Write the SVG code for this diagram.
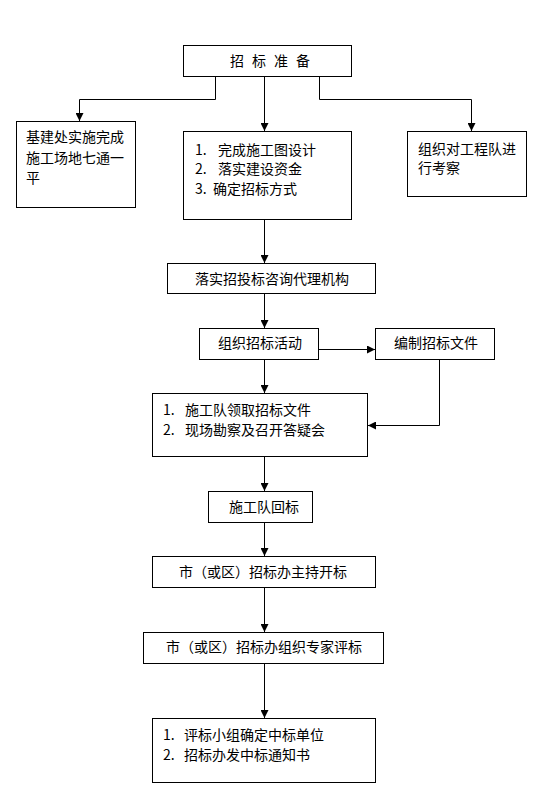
<svg xmlns="http://www.w3.org/2000/svg" width="542" height="797" viewBox="0 0 542 797">
<style>
.box{fill:#fff;stroke:#000;stroke-width:1}
.t{font-family:"Noto Sans CJK SC","Noto Sans",sans-serif;font-size:14px;fill:#000}
.c{fill:none;stroke:#000;stroke-width:1}
</style>
<defs>
<marker id="ah" markerUnits="userSpaceOnUse" markerWidth="8" markerHeight="8" refX="8" refY="4" orient="auto">
<path d="M0,0 L8,4 L0,8 z" fill="#000"/>
</marker>
</defs>
<rect width="542" height="797" fill="#fff"/>
<g id="connectors">
<path class="c" marker-end="url(#ah)" d="M215.5,77 V99.5 H79.5 V121"/>
<path class="c" marker-end="url(#ah)" d="M264.5,77 V131"/>
<path class="c" marker-end="url(#ah)" d="M319.5,77 V99.5 H471.5 V131"/>
<path class="c" marker-end="url(#ah)" d="M264.5,220 V263"/>
<path class="c" marker-end="url(#ah)" d="M264.5,294 V328"/>
<path class="c" marker-end="url(#ah)" d="M319,349.5 H375"/>
<path class="c" marker-end="url(#ah)" d="M264.5,360 V393"/>
<path class="c" marker-end="url(#ah)" d="M439.5,360 V425.5 H368"/>
<path class="c" marker-end="url(#ah)" d="M264.5,457 V491"/>
<path class="c" marker-end="url(#ah)" d="M264.5,523 V556"/>
<path class="c" marker-end="url(#ah)" d="M264.5,588 V632"/>
<path class="c" marker-end="url(#ah)" d="M264.5,664 V718"/>
</g>
<g id="n-prep">
<rect class="box" x="183.5" y="45.5" width="168" height="31"/>
<text class="t" x="230" y="66" letter-spacing="8">招标准备</text>
</g>
<g id="n-site">
<rect class="box" x="16.5" y="121.5" width="119" height="86"/>
<text class="t" x="26" y="142">基建处实施完成</text>
<text class="t" x="26" y="162.5">施工场地七通一</text>
<text class="t" x="26" y="182.5">平</text>
</g>
<g id="n-design">
<rect class="box" x="183.5" y="131.5" width="168" height="88"/>
<text class="t" x="195" y="154.5">1.<tspan x="218">完成施工图设计</tspan></text>
<text class="t" x="195" y="173.5">2.<tspan x="218">落实建设资金</tspan></text>
<text class="t" x="195" y="193.5">3.<tspan x="213">确定招标方式</tspan></text>
</g>
<g id="n-inspect">
<rect class="box" x="407.5" y="131.5" width="119" height="65"/>
<text class="t" x="418" y="153.5">组织对工程队进</text>
<text class="t" x="418" y="172.5">行考察</text>
</g>
<g id="n-agent">
<rect class="box" x="167.5" y="263.5" width="208" height="30"/>
<text class="t" x="195" y="283.5">落实招投标咨询代理机构</text>
</g>
<g id="n-organize">
<rect class="box" x="199.5" y="328.5" width="119" height="31"/>
<text class="t" x="218" y="348">组织招标活动</text>
</g>
<g id="n-docs">
<rect class="box" x="375.5" y="328.5" width="119" height="31"/>
<text class="t" x="394" y="348">编制招标文件</text>
</g>
<g id="n-collect">
<rect class="box" x="152.5" y="393.5" width="215" height="63"/>
<text class="t" x="163" y="415">1.<tspan x="185">施工队领取招标文件</tspan></text>
<text class="t" x="163" y="435">2.<tspan x="185">现场勘察及召开答疑会</tspan></text>
</g>
<g id="n-return">
<rect class="box" x="208.5" y="491.5" width="104" height="31"/>
<text class="t" x="229" y="512">施工队回标</text>
</g>
<g id="n-open">
<rect class="box" x="152.5" y="556.5" width="223" height="31"/>
<text class="t" x="179" y="577">市（或区）招标办主持开标</text>
</g>
<g id="n-eval">
<rect class="box" x="143.5" y="632.5" width="240" height="31"/>
<text class="t" x="166" y="652">市（或区）招标办组织专家评标</text>
</g>
<g id="n-award">
<rect class="box" x="152.5" y="718.5" width="223" height="64"/>
<text class="t" x="163" y="740">1.<tspan x="184">评标小组确定中标单位</tspan></text>
<text class="t" x="163" y="760">2.<tspan x="184">招标办发中标通知书</tspan></text>
</g>
</svg>
